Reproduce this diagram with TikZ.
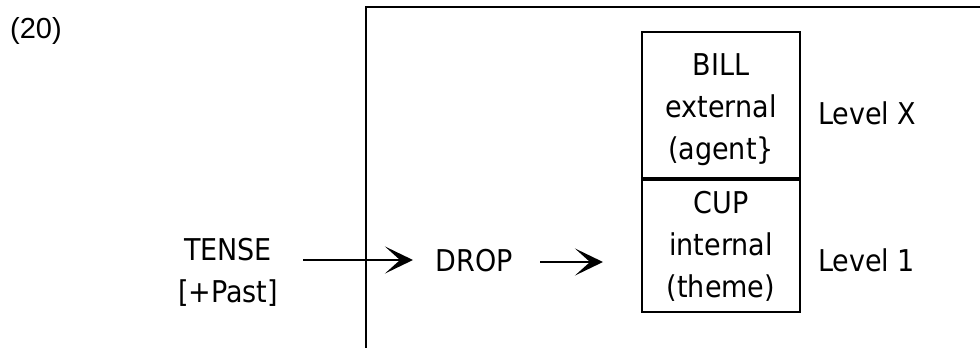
\documentclass[tikz,border=0pt]{standalone}
\usepackage{fontspec}
\setmainfont{DejaVu Sans Condensed}
\newfontfamily\numfont{Liberation Sans}
\usetikzlibrary{arrows.meta}
\begin{document}
\begin{tikzpicture}[x=1pt,y=-1pt,
  lbl/.style={inner sep=0pt,align=center,font=\fontsize{30}{42}\selectfont},
  cell/.style={draw,line width=2.4pt,minimum width=158pt,inner sep=0pt},
  conn/.style={line width=2.4pt,-{Stealth[length=28pt,width=27pt,inset=15pt]}}]
\useasboundingbox (0,0) rectangle (980,348);
% frame
\coordinate (fb) at (366,349);
\coordinate (ft) at (366,7);
\coordinate (fr) at (981,7);
\draw[line width=2.4pt] (fb) -- (ft) -- (fr);
% number
\node[inner sep=0pt,font=\numfont\fontsize{29}{34}\selectfont] (num) at (36,31) {(20)};
% box
\node[cell,minimum height=146pt] (bill) at (721,105) {};
\node[cell,minimum height=134pt] (cup) at (721,245) {};
\draw[line width=3.6pt] (bill.south west) -- (bill.south east);
\node[lbl] (billtxt) at (721,110) {BILL\\external\\(agent\}};
\node[lbl] (cuptxt) at (721,246) {CUP\\internal\\(theme)};
% labels
\node[lbl,anchor=west] (lx) at (818,113) {Level X};
\node[lbl,anchor=west] (l1) at (818,260) {Level 1};
\node[lbl] (drop) at (474,261) {DROP};
\node[lbl] (tense) at (228,272) {TENSE\\{}[+Past]};
% connectors
\coordinate (t1) at (303,260);
\coordinate (t2) at (413,260);
\draw[conn] (t1) -- (t2);
\coordinate (d1) at (540,262);
\coordinate (d2) at (603,262);
\draw[conn] (d1) -- (d2);
\end{tikzpicture}
\end{document}
